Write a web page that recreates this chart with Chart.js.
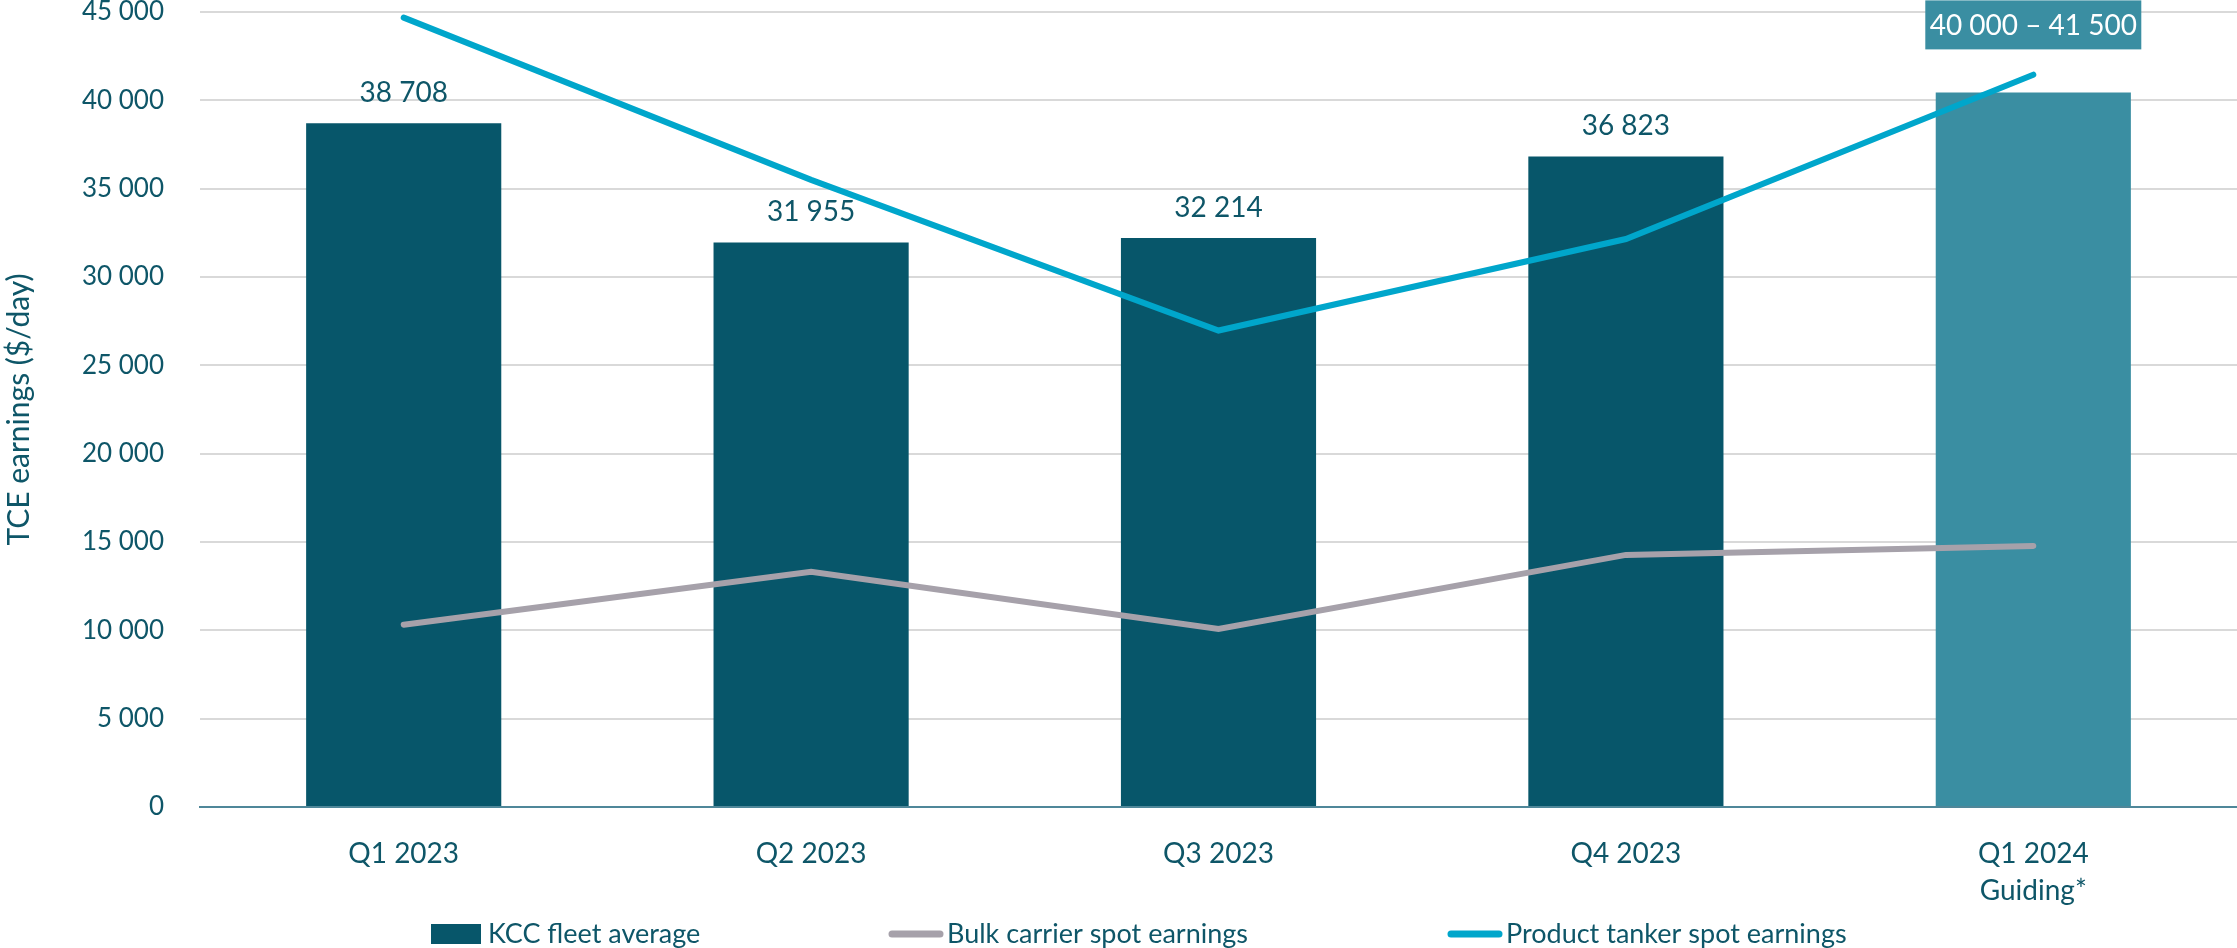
<!DOCTYPE html>
<html><head><meta charset="utf-8">
<script src="https://cdn.jsdelivr.net/npm/chart.js@4.4.1/dist/chart.umd.min.js"></script>
<style>html,body{margin:0;padding:0;background:#fff;overflow:hidden}#wrap{width:2237px;height:948px;position:relative}</style>
</head><body><div id="wrap"><canvas id="c"></canvas></div>
<script>
// ---- data ----
const categories = [['Q1 2023'], ['Q2 2023'], ['Q3 2023'], ['Q4 2023'], ['Q1 2024', 'Guiding*']];
const fleetAverage = [38708, 31955, 32214, 36823, 40450];
const fleetLabels = ['38 708', '31 955', '32 214', '36 823', '40 000 – 41 500'];
const bulkCarrier = [10320, 13310, 10080, 14270, 14780];
const productTanker = [44680, 35500, 26970, 32150, 41450];
const seriesNames = ['KCC fleet average', 'Bulk carrier spot earnings', 'Product tanker spot earnings'];
const yMin = 0, yMax = 45000, yStep = 5000;
const yTitle = 'TCE earnings ($/day)';

// ---- styles ----
const FONT = 'Lato, "Open Sans", sans-serif';
const TEXT = '#0E5668';
const BAR = '#07566A';
const BAR_GUIDE = '#3A8EA2';
const BULK = '#A6A1AA';
const PROD = '#00A6CB';
const LEGEND_X = [431, 889, 1448];

const fmt = v => String(v).replace(/\B(?=(\d{3})+(?!\d))/g, ' ');

const labelPlugin = {
  id: 'barLabels',
  afterDatasetsDraw(chart) {
    const ctx = chart.ctx;
    const meta = chart.getDatasetMeta(0);
    ctx.save();
    meta.data.forEach((el, i) => {
      const txt = fleetLabels[i];
      ctx.font = '28px ' + FONT;
      ctx.textAlign = 'center';
      if (i === meta.data.length - 1) {
        const w = 216, h = 49;
        const top = el.y - 92;
        ctx.fillStyle = BAR_GUIDE;
        ctx.fillRect(el.x - w / 2, top, w, h);
        ctx.fillStyle = '#FFFFFF';
        ctx.textBaseline = 'middle';
        ctx.fillText(txt, el.x, top + h / 2 + 1);
      } else {
        ctx.fillStyle = TEXT;
        ctx.textBaseline = 'alphabetic';
        ctx.fillText(txt, el.x, el.y - 21);
      }
    });
    ctx.restore();
  }
};

const legendPlugin = {
  id: 'customLegend',
  afterDraw(chart) {
    const ctx = chart.ctx;
    ctx.save();
    ctx.font = '27px ' + FONT;
    ctx.textBaseline = 'middle';
    ctx.textAlign = 'left';
    const cy = 934;
    chart.data.datasets.forEach((ds, i) => {
      let x = LEGEND_X[i];
      if (ds.type === 'bar') {
        ctx.fillStyle = BAR;
        ctx.fillRect(x, cy - 10, 50, 20);
        x += 57;
      } else {
        ctx.strokeStyle = ds.borderColor;
        ctx.lineWidth = 7;
        ctx.lineCap = 'round';
        ctx.beginPath();
        ctx.moveTo(x + 3, cy);
        ctx.lineTo(x + 51, cy);
        ctx.stroke();
        x += 58;
      }
      ctx.fillStyle = TEXT;
      ctx.fillText(ds.label, x, cy);
    });
    ctx.restore();
  }
};

new Chart(document.getElementById('c'), {
  data: {
    labels: categories,
    datasets: [
      {
        type: 'bar', label: seriesNames[0], data: fleetAverage, order: 2,
        backgroundColor: fleetAverage.map((v, i) => i === fleetAverage.length - 1 ? BAR_GUIDE : BAR),
        barPercentage: 0.479, categoryPercentage: 1
      },
      {
        type: 'line', label: seriesNames[1], data: bulkCarrier, order: 1,
        borderColor: BULK, borderWidth: 6, pointRadius: 0, tension: 0,
        borderCapStyle: 'round', borderJoinStyle: 'miter', fill: false
      },
      {
        type: 'line', label: seriesNames[2], data: productTanker, order: 0,
        borderColor: PROD, borderWidth: 6, pointRadius: 0, tension: 0,
        borderCapStyle: 'round', borderJoinStyle: 'miter', fill: false
      }
    ]
  },
  options: {
    responsive: true, maintainAspectRatio: false, animation: false,
    layout: { padding: { top: 12, right: 0, left: 0, bottom: 0 } },
    plugins: { legend: { display: false }, tooltip: { enabled: false } },
    scales: {
      x: {
        offset: true,
        grid: { display: false, drawTicks: false },
        border: { display: true, color: '#4F8799', width: 2 },
        ticks: { color: TEXT, font: { family: FONT, size: 28, lineHeight: 1.33 }, padding: 28, maxRotation: 0, autoSkip: false },
        afterFit(s) { s.height = 141; s.paddingLeft = 0; s.paddingRight = 0; }
      },
      y: {
        min: yMin, max: yMax,
        grid: { color: ctx => ctx.tick && ctx.tick.value === 0 ? 'rgba(0,0,0,0)' : '#D9D9D9', lineWidth: 2, drawTicks: false },
        border: { display: false },
        ticks: { stepSize: yStep, color: TEXT, font: { family: FONT, size: 26 }, padding: 36, callback: v => fmt(v) },
        title: { display: true, text: yTitle, color: TEXT, font: { family: FONT, size: 30 }, padding: { top: 1, bottom: 0 } },
        afterFit(s) { s.width = 200; s.paddingTop = 0; s.paddingBottom = 0; }
      }
    }
  },
  plugins: [labelPlugin, legendPlugin]
});
</script>
</body></html>
